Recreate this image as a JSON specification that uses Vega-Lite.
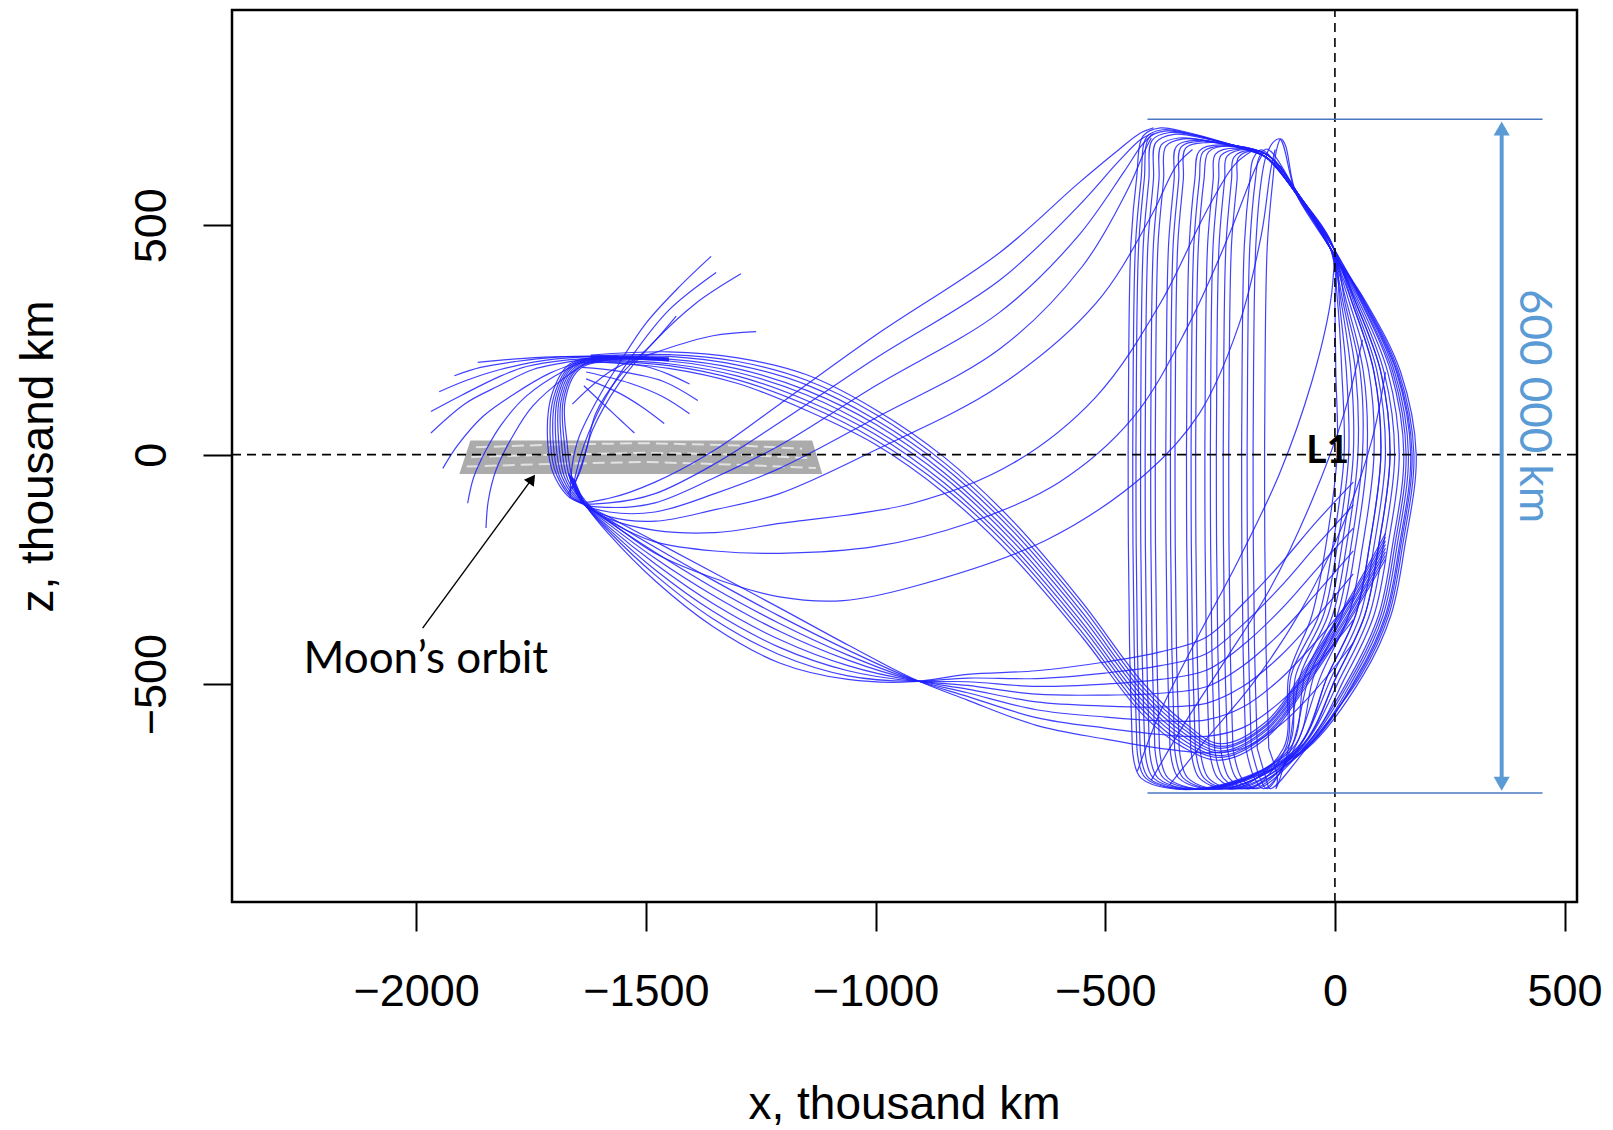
{
"$schema":"https://vega.github.io/schema/vega-lite/v6.json",
"width":1345,"height":892,"autosize":"none",
"padding":{"left":232,"top":10,"right":36,"bottom":228},
"background":"white",
"config":{"view":{"stroke":"black","strokeWidth":2.5}},
"datasets":{
"curves":[
{"c":"LF1","x":-1560,"z":212},{"c":"LF1","x":-1674,"z":206},{"c":"LF1","x":-1760,"z":192},{"c":"LF1","x":-1819,"z":170},{"c":"LF1","x":-1900,"z":130},{"c":"LF1","x":-1968,"z":94},
{"c":"LF2","x":-1560,"z":214},{"c":"LF2","x":-1700,"z":208},{"c":"LF2","x":-1819,"z":185},{"c":"LF2","x":-1890,"z":162},{"c":"LF2","x":-1950,"z":137},
{"c":"LF3","x":-1560,"z":215},{"c":"LF3","x":-1700,"z":212},{"c":"LF3","x":-1783,"z":203},{"c":"LF3","x":-1860,"z":190},{"c":"LF3","x":-1917,"z":172},
{"c":"LF4","x":-1580,"z":214},{"c":"LF4","x":-1700,"z":213},{"c":"LF4","x":-1790,"z":208},{"c":"LF4","x":-1866,"z":201},
{"c":"LF5","x":-1600,"z":212},{"c":"LF5","x":-1680,"z":200},{"c":"LF5","x":-1747,"z":185},{"c":"LF5","x":-1820,"z":150},{"c":"LF5","x":-1892,"z":112},{"c":"LF5","x":-1968,"z":47},
{"c":"LF6","x":-1620,"z":210},{"c":"LF6","x":-1710,"z":177},{"c":"LF6","x":-1790,"z":130},{"c":"LF6","x":-1855,"z":83},{"c":"LF6","x":-1910,"z":20},{"c":"LF6","x":-1942,"z":-30},
{"c":"LF7","x":-1620,"z":208},{"c":"LF7","x":-1674,"z":185},{"c":"LF7","x":-1761,"z":127},{"c":"LF7","x":-1815,"z":65},{"c":"LF7","x":-1848,"z":10},{"c":"LF7","x":-1875,"z":-50},{"c":"LF7","x":-1888,"z":-106},
{"c":"LF8","x":-1620,"z":205},{"c":"LF8","x":-1674,"z":170},{"c":"LF8","x":-1747,"z":105},{"c":"LF8","x":-1790,"z":40},{"c":"LF8","x":-1826,"z":-33},{"c":"LF8","x":-1843,"z":-100},{"c":"LF8","x":-1848,"z":-160},
{"c":"RF1","x":-1665,"z":-95},{"c":"RF1","x":-1660,"z":-20},{"c":"RF1","x":-1645,"z":40},{"c":"RF1","x":-1600,"z":130},{"c":"RF1","x":-1558,"z":199},{"c":"RF1","x":-1500,"z":286},{"c":"RF1","x":-1427,"z":366},{"c":"RF1","x":-1358,"z":432},
{"c":"RF2","x":-1670,"z":-85},{"c":"RF2","x":-1645,"z":-41},{"c":"RF2","x":-1616,"z":54},{"c":"RF2","x":-1558,"z":156},{"c":"RF2","x":-1485,"z":243},{"c":"RF2","x":-1391,"z":330},{"c":"RF2","x":-1293,"z":394},
{"c":"RF3","x":-1660,"z":-75},{"c":"RF3","x":-1635,"z":20},{"c":"RF3","x":-1590,"z":120},{"c":"RF3","x":-1530,"z":215},{"c":"RF3","x":-1450,"z":315},{"c":"RF3","x":-1347,"z":397},
{"c":"RF4","x":-1655,"z":-65},{"c":"RF4","x":-1630,"z":10},{"c":"RF4","x":-1609,"z":90},{"c":"RF4","x":-1558,"z":170},{"c":"RF4","x":-1485,"z":243},{"c":"RF4","x":-1434,"z":302},
{"c":"RF5","x":-1660,"z":110},{"c":"RF5","x":-1572,"z":185},{"c":"RF5","x":-1463,"z":228},{"c":"RF5","x":-1354,"z":259},{"c":"RF5","x":-1260,"z":268},
{"c":"SF1","x":-1640,"z":200},{"c":"SF1","x":-1560,"z":200},{"c":"SF1","x":-1500,"z":192},{"c":"SF1","x":-1450,"z":175},{"c":"SF1","x":-1405,"z":154},
{"c":"SF2","x":-1640,"z":190},{"c":"SF2","x":-1560,"z":182},{"c":"SF2","x":-1463,"z":160},{"c":"SF2","x":-1387,"z":118},
{"c":"SF3","x":-1630,"z":180},{"c":"SF3","x":-1536,"z":156},{"c":"SF3","x":-1463,"z":126},{"c":"SF3","x":-1405,"z":89},
{"c":"SF4","x":-1630,"z":165},{"c":"SF4","x":-1558,"z":134},{"c":"SF4","x":-1510,"z":105},{"c":"SF4","x":-1460,"z":68},
{"c":"SF5","x":-1635,"z":150},{"c":"SF5","x":-1587,"z":105},{"c":"SF5","x":-1555,"z":75},{"c":"SF5","x":-1525,"z":47},
{"c":"L0","x":-1450,"z":211},{"c":"L0","x":-1580,"z":213},{"c":"L0","x":-1665,"z":198},{"c":"L0","x":-1705,"z":130},{"c":"L0","x":-1714,"z":30},{"c":"L0","x":-1700,"z":-45},{"c":"L0","x":-1655,"z":-100},{"c":"L0","x":-1580,"z":-95},{"c":"L0","x":-1480,"z":-60},{"c":"L0","x":-1350,"z":10},{"c":"L0","x":-1209,"z":110},{"c":"L0","x":-1000,"z":260},{"c":"L0","x":-730,"z":440},{"c":"L0","x":-560,"z":590},{"c":"L0","x":-470,"z":665},{"c":"L0","x":-425,"z":700},{"c":"L0","x":-395,"z":712},
{"c":"L1","x":-1450,"z":210},{"c":"L1","x":-1580,"z":212},{"c":"L1","x":-1662,"z":196},{"c":"L1","x":-1700,"z":128},{"c":"L1","x":-1708,"z":30},{"c":"L1","x":-1694,"z":-45},{"c":"L1","x":-1650,"z":-102},{"c":"L1","x":-1580,"z":-105},{"c":"L1","x":-1480,"z":-85},{"c":"L1","x":-1350,"z":-20},{"c":"L1","x":-1209,"z":70},{"c":"L1","x":-1000,"z":210},{"c":"L1","x":-730,"z":380},{"c":"L1","x":-560,"z":540},{"c":"L1","x":-470,"z":640},{"c":"L1","x":-425,"z":685},{"c":"L1","x":-400,"z":700},
{"c":"L2","x":-1450,"z":209},{"c":"L2","x":-1580,"z":211},{"c":"L2","x":-1660,"z":194},{"c":"L2","x":-1696,"z":126},{"c":"L2","x":-1702,"z":30},{"c":"L2","x":-1688,"z":-48},{"c":"L2","x":-1645,"z":-104},{"c":"L2","x":-1580,"z":-115},{"c":"L2","x":-1480,"z":-105},{"c":"L2","x":-1350,"z":-50},{"c":"L2","x":-1209,"z":20},{"c":"L2","x":-1000,"z":150},{"c":"L2","x":-730,"z":310},{"c":"L2","x":-560,"z":475},{"c":"L2","x":-460,"z":615},{"c":"L2","x":-420,"z":675},{"c":"L2","x":-395,"z":700},
{"c":"L3","x":-1450,"z":208},{"c":"L3","x":-1580,"z":210},{"c":"L3","x":-1658,"z":192},{"c":"L3","x":-1692,"z":124},{"c":"L3","x":-1696,"z":30},{"c":"L3","x":-1682,"z":-50},{"c":"L3","x":-1640,"z":-106},{"c":"L3","x":-1580,"z":-125},{"c":"L3","x":-1480,"z":-125},{"c":"L3","x":-1350,"z":-85},{"c":"L3","x":-1209,"z":-30},{"c":"L3","x":-1000,"z":80},{"c":"L3","x":-730,"z":230},{"c":"L3","x":-550,"z":410},{"c":"L3","x":-450,"z":580},{"c":"L3","x":-415,"z":660},{"c":"L3","x":-400,"z":690},
{"c":"L4","x":-1450,"z":207},{"c":"L4","x":-1580,"z":209},{"c":"L4","x":-1655,"z":190},{"c":"L4","x":-1688,"z":122},{"c":"L4","x":-1690,"z":30},{"c":"L4","x":-1676,"z":-52},{"c":"L4","x":-1635,"z":-108},{"c":"L4","x":-1580,"z":-135},{"c":"L4","x":-1480,"z":-145},{"c":"L4","x":-1350,"z":-120},{"c":"L4","x":-1209,"z":-85},{"c":"L4","x":-1000,"z":10},{"c":"L4","x":-730,"z":150},{"c":"L4","x":-520,"z":330},{"c":"L4","x":-400,"z":520},{"c":"L4","x":-345,"z":630},{"c":"L4","x":-310,"z":665},
{"c":"L5","x":-1450,"z":206},{"c":"L5","x":-1580,"z":208},{"c":"L5","x":-1652,"z":188},{"c":"L5","x":-1684,"z":120},{"c":"L5","x":-1684,"z":30},{"c":"L5","x":-1670,"z":-54},{"c":"L5","x":-1630,"z":-110},{"c":"L5","x":-1580,"z":-140},{"c":"L5","x":-1480,"z":-165},{"c":"L5","x":-1350,"z":-170},{"c":"L5","x":-1209,"z":-150},{"c":"L5","x":-919,"z":-106},{"c":"L5","x":-701,"z":-19},{"c":"L5","x":-520,"z":126},{"c":"L5","x":-380,"z":330},{"c":"L5","x":-280,"z":530},{"c":"L5","x":-220,"z":630},{"c":"L5","x":-180,"z":662},
{"c":"L6","x":-1450,"z":205},{"c":"L6","x":-1580,"z":207},{"c":"L6","x":-1650,"z":186},{"c":"L6","x":-1680,"z":118},{"c":"L6","x":-1678,"z":30},{"c":"L6","x":-1664,"z":-56},{"c":"L6","x":-1625,"z":-112},{"c":"L6","x":-1570,"z":-150},{"c":"L6","x":-1480,"z":-190},{"c":"L6","x":-1350,"z":-210},{"c":"L6","x":-1209,"z":-215},{"c":"L6","x":-1000,"z":-200},{"c":"L6","x":-800,"z":-150},{"c":"L6","x":-600,"z":-60},{"c":"L6","x":-440,"z":80},{"c":"L6","x":-320,"z":280},{"c":"L6","x":-230,"z":480},{"c":"L6","x":-175,"z":620},{"c":"L6","x":-155,"z":660},
{"c":"L7","x":-1450,"z":204},{"c":"L7","x":-1580,"z":206},{"c":"L7","x":-1647,"z":184},{"c":"L7","x":-1676,"z":116},{"c":"L7","x":-1672,"z":30},{"c":"L7","x":-1658,"z":-58},{"c":"L7","x":-1620,"z":-114},{"c":"L7","x":-1560,"z":-160},{"c":"L7","x":-1480,"z":-215},{"c":"L7","x":-1350,"z":-270},{"c":"L7","x":-1209,"z":-310},{"c":"L7","x":-1070,"z":-318},{"c":"L7","x":-919,"z":-288},{"c":"L7","x":-628,"z":-186},{"c":"L7","x":-411,"z":-41},{"c":"L7","x":-295,"z":90},{"c":"L7","x":-210,"z":280},{"c":"L7","x":-160,"z":480},{"c":"L7","x":-140,"z":620},{"c":"L7","x":-130,"z":665},
{"c":"B0","x":-1620,"z":203},{"c":"B0","x":-1450,"z":188},{"c":"B0","x":-1300,"z":155},{"c":"B0","x":-1150,"z":96},{"c":"B0","x":-1000,"z":22},{"c":"B0","x":-850,"z":-84},{"c":"B0","x":-700,"z":-224},{"c":"B0","x":-550,"z":-398},{"c":"B0","x":-420,"z":-565},{"c":"B0","x":-330,"z":-638},{"c":"B0","x":-250,"z":-666},{"c":"B0","x":-150,"z":-618},{"c":"B0","x":-60,"z":-501},{"c":"B0","x":30,"z":-364},{"c":"B0","x":110,"z":-228},
{"c":"B1","x":-1620,"z":205},{"c":"B1","x":-1450,"z":194},{"c":"B1","x":-1300,"z":163},{"c":"B1","x":-1150,"z":108},{"c":"B1","x":-1000,"z":32},{"c":"B1","x":-850,"z":-72},{"c":"B1","x":-700,"z":-212},{"c":"B1","x":-550,"z":-388},{"c":"B1","x":-420,"z":-555},{"c":"B1","x":-330,"z":-630},{"c":"B1","x":-250,"z":-660},{"c":"B1","x":-150,"z":-612},{"c":"B1","x":-60,"z":-495},{"c":"B1","x":30,"z":-358},{"c":"B1","x":110,"z":-220},
{"c":"B2","x":-1620,"z":207},{"c":"B2","x":-1450,"z":198},{"c":"B2","x":-1300,"z":171},{"c":"B2","x":-1150,"z":118},{"c":"B2","x":-1000,"z":44},{"c":"B2","x":-850,"z":-62},{"c":"B2","x":-700,"z":-202},{"c":"B2","x":-550,"z":-376},{"c":"B2","x":-420,"z":-545},{"c":"B2","x":-330,"z":-622},{"c":"B2","x":-250,"z":-656},{"c":"B2","x":-150,"z":-608},{"c":"B2","x":-60,"z":-489},{"c":"B2","x":30,"z":-350},{"c":"B2","x":110,"z":-212},
{"c":"B3","x":-1620,"z":209},{"c":"B3","x":-1450,"z":204},{"c":"B3","x":-1300,"z":179},{"c":"B3","x":-1150,"z":130},{"c":"B3","x":-1000,"z":54},{"c":"B3","x":-850,"z":-50},{"c":"B3","x":-700,"z":-190},{"c":"B3","x":-550,"z":-366},{"c":"B3","x":-420,"z":-535},{"c":"B3","x":-330,"z":-614},{"c":"B3","x":-250,"z":-650},{"c":"B3","x":-150,"z":-602},{"c":"B3","x":-60,"z":-483},{"c":"B3","x":30,"z":-344},{"c":"B3","x":110,"z":-204},
{"c":"B4","x":-1620,"z":211},{"c":"B4","x":-1450,"z":208},{"c":"B4","x":-1300,"z":187},{"c":"B4","x":-1150,"z":140},{"c":"B4","x":-1000,"z":66},{"c":"B4","x":-850,"z":-40},{"c":"B4","x":-700,"z":-180},{"c":"B4","x":-550,"z":-354},{"c":"B4","x":-420,"z":-525},{"c":"B4","x":-330,"z":-606},{"c":"B4","x":-250,"z":-646},{"c":"B4","x":-150,"z":-598},{"c":"B4","x":-60,"z":-477},{"c":"B4","x":30,"z":-336},{"c":"B4","x":110,"z":-196},
{"c":"B5","x":-1620,"z":213},{"c":"B5","x":-1450,"z":214},{"c":"B5","x":-1300,"z":195},{"c":"B5","x":-1150,"z":152},{"c":"B5","x":-1000,"z":76},{"c":"B5","x":-850,"z":-28},{"c":"B5","x":-700,"z":-168},{"c":"B5","x":-550,"z":-344},{"c":"B5","x":-420,"z":-515},{"c":"B5","x":-330,"z":-598},{"c":"B5","x":-250,"z":-640},{"c":"B5","x":-150,"z":-592},{"c":"B5","x":-60,"z":-471},{"c":"B5","x":30,"z":-330},{"c":"B5","x":110,"z":-188},
{"c":"B6","x":-1620,"z":215},{"c":"B6","x":-1450,"z":218},{"c":"B6","x":-1300,"z":203},{"c":"B6","x":-1150,"z":162},{"c":"B6","x":-1000,"z":88},{"c":"B6","x":-850,"z":-18},{"c":"B6","x":-700,"z":-158},{"c":"B6","x":-550,"z":-332},{"c":"B6","x":-420,"z":-505},{"c":"B6","x":-330,"z":-590},{"c":"B6","x":-250,"z":-636},{"c":"B6","x":-150,"z":-588},{"c":"B6","x":-60,"z":-465},{"c":"B6","x":30,"z":-322},{"c":"B6","x":110,"z":-180},
{"c":"B7","x":-1620,"z":217},{"c":"B7","x":-1450,"z":224},{"c":"B7","x":-1300,"z":211},{"c":"B7","x":-1150,"z":174},{"c":"B7","x":-1000,"z":98},{"c":"B7","x":-850,"z":-6},{"c":"B7","x":-700,"z":-146},{"c":"B7","x":-550,"z":-322},{"c":"B7","x":-420,"z":-495},{"c":"B7","x":-330,"z":-582},{"c":"B7","x":-250,"z":-630},{"c":"B7","x":-150,"z":-582},{"c":"B7","x":-60,"z":-459},{"c":"B7","x":30,"z":-316},{"c":"B7","x":110,"z":-172},
{"c":"BB0","x":-1668,"z":-40},{"c":"BB0","x":-1640,"z":-100},{"c":"BB0","x":-1580,"z":-136},{"c":"BB0","x":-1480,"z":-189},{"c":"BB0","x":-1355,"z":-256},{"c":"BB0","x":-1209,"z":-334},{"c":"BB0","x":-1060,"z":-415},{"c":"BB0","x":-919,"z":-488},{"c":"BB0","x":-800,"z":-535},{"c":"BB0","x":-650,"z":-590},{"c":"BB0","x":-500,"z":-620},{"c":"BB0","x":-380,"z":-640},{"c":"BB0","x":-280,"z":-650},{"c":"BB0","x":-200,"z":-640},{"c":"BB0","x":-120,"z":-590},{"c":"BB0","x":-40,"z":-510},{"c":"BB0","x":40,"z":-410},
{"c":"BB1","x":-1668,"z":-42},{"c":"BB1","x":-1640,"z":-102},{"c":"BB1","x":-1580,"z":-142},{"c":"BB1","x":-1480,"z":-202},{"c":"BB1","x":-1355,"z":-273},{"c":"BB1","x":-1209,"z":-352},{"c":"BB1","x":-1060,"z":-426},{"c":"BB1","x":-919,"z":-489},{"c":"BB1","x":-800,"z":-527},{"c":"BB1","x":-650,"z":-573},{"c":"BB1","x":-500,"z":-596},{"c":"BB1","x":-380,"z":-610},{"c":"BB1","x":-280,"z":-614},{"c":"BB1","x":-200,"z":-595},{"c":"BB1","x":-120,"z":-540},{"c":"BB1","x":-40,"z":-458},{"c":"BB1","x":40,"z":-360},
{"c":"BB2","x":-1666,"z":-44},{"c":"BB2","x":-1638,"z":-104},{"c":"BB2","x":-1580,"z":-147},{"c":"BB2","x":-1480,"z":-213},{"c":"BB2","x":-1355,"z":-289},{"c":"BB2","x":-1209,"z":-368},{"c":"BB2","x":-1060,"z":-437},{"c":"BB2","x":-919,"z":-490},{"c":"BB2","x":-800,"z":-519},{"c":"BB2","x":-650,"z":-556},{"c":"BB2","x":-500,"z":-572},{"c":"BB2","x":-380,"z":-580},{"c":"BB2","x":-280,"z":-578},{"c":"BB2","x":-200,"z":-550},{"c":"BB2","x":-120,"z":-490},{"c":"BB2","x":-40,"z":-406},{"c":"BB2","x":40,"z":-310},
{"c":"BB3","x":-1664,"z":-46},{"c":"BB3","x":-1636,"z":-106},{"c":"BB3","x":-1580,"z":-152},{"c":"BB3","x":-1480,"z":-226},{"c":"BB3","x":-1355,"z":-306},{"c":"BB3","x":-1209,"z":-385},{"c":"BB3","x":-1060,"z":-448},{"c":"BB3","x":-919,"z":-491},{"c":"BB3","x":-800,"z":-511},{"c":"BB3","x":-650,"z":-539},{"c":"BB3","x":-500,"z":-548},{"c":"BB3","x":-380,"z":-550},{"c":"BB3","x":-280,"z":-542},{"c":"BB3","x":-200,"z":-505},{"c":"BB3","x":-120,"z":-440},{"c":"BB3","x":-40,"z":-354},{"c":"BB3","x":40,"z":-260},
{"c":"BB4","x":-1662,"z":-48},{"c":"BB4","x":-1634,"z":-108},{"c":"BB4","x":-1580,"z":-158},{"c":"BB4","x":-1480,"z":-238},{"c":"BB4","x":-1355,"z":-324},{"c":"BB4","x":-1209,"z":-403},{"c":"BB4","x":-1060,"z":-460},{"c":"BB4","x":-919,"z":-492},{"c":"BB4","x":-800,"z":-503},{"c":"BB4","x":-650,"z":-522},{"c":"BB4","x":-500,"z":-524},{"c":"BB4","x":-380,"z":-520},{"c":"BB4","x":-280,"z":-506},{"c":"BB4","x":-200,"z":-460},{"c":"BB4","x":-120,"z":-390},{"c":"BB4","x":-40,"z":-302},{"c":"BB4","x":40,"z":-210},
{"c":"BB5","x":-1660,"z":-50},{"c":"BB5","x":-1632,"z":-110},{"c":"BB5","x":-1580,"z":-163},{"c":"BB5","x":-1480,"z":-251},{"c":"BB5","x":-1355,"z":-341},{"c":"BB5","x":-1209,"z":-420},{"c":"BB5","x":-1060,"z":-471},{"c":"BB5","x":-919,"z":-493},{"c":"BB5","x":-800,"z":-495},{"c":"BB5","x":-650,"z":-505},{"c":"BB5","x":-500,"z":-500},{"c":"BB5","x":-380,"z":-490},{"c":"BB5","x":-280,"z":-470},{"c":"BB5","x":-200,"z":-415},{"c":"BB5","x":-120,"z":-340},{"c":"BB5","x":-40,"z":-250},{"c":"BB5","x":40,"z":-160},
{"c":"BB6","x":-1658,"z":-52},{"c":"BB6","x":-1630,"z":-112},{"c":"BB6","x":-1580,"z":-168},{"c":"BB6","x":-1480,"z":-262},{"c":"BB6","x":-1355,"z":-357},{"c":"BB6","x":-1209,"z":-436},{"c":"BB6","x":-1060,"z":-482},{"c":"BB6","x":-919,"z":-494},{"c":"BB6","x":-800,"z":-487},{"c":"BB6","x":-650,"z":-488},{"c":"BB6","x":-500,"z":-476},{"c":"BB6","x":-380,"z":-460},{"c":"BB6","x":-280,"z":-434},{"c":"BB6","x":-200,"z":-370},{"c":"BB6","x":-120,"z":-290},{"c":"BB6","x":-40,"z":-198},{"c":"BB6","x":40,"z":-110},
{"c":"BB7","x":-1656,"z":-54},{"c":"BB7","x":-1628,"z":-114},{"c":"BB7","x":-1580,"z":-174},{"c":"BB7","x":-1480,"z":-275},{"c":"BB7","x":-1355,"z":-374},{"c":"BB7","x":-1209,"z":-454},{"c":"BB7","x":-1060,"z":-490},{"c":"BB7","x":-919,"z":-495},{"c":"BB7","x":-800,"z":-479},{"c":"BB7","x":-650,"z":-471},{"c":"BB7","x":-500,"z":-452},{"c":"BB7","x":-380,"z":-430},{"c":"BB7","x":-280,"z":-398},{"c":"BB7","x":-200,"z":-325},{"c":"BB7","x":-120,"z":-240},{"c":"BB7","x":-40,"z":-146},{"c":"BB7","x":40,"z":-60},
{"c":"D1","x":-430,"z":-690},{"c":"D1","x":-380,"z":-560},{"c":"D1","x":-300,"z":-400},{"c":"D1","x":-210,"z":-230},{"c":"D1","x":-120,"z":-40},{"c":"D1","x":-50,"z":160},{"c":"D1","x":-10,"z":330},{"c":"D1","x":0,"z":450},
{"c":"D2","x":-400,"z":-710},{"c":"D2","x":-330,"z":-590},{"c":"D2","x":-240,"z":-450},{"c":"D2","x":-140,"z":-290},{"c":"D2","x":-50,"z":-100},{"c":"D2","x":20,"z":90},{"c":"D2","x":60,"z":250},
{"c":"D3","x":-360,"z":-720},{"c":"D3","x":-280,"z":-620},{"c":"D3","x":-180,"z":-500},{"c":"D3","x":-80,"z":-350},{"c":"D3","x":10,"z":-170},{"c":"D3","x":80,"z":30},{"c":"D3","x":110,"z":180},
{"c":"H0","x":-441,"z":-640},{"c":"H0","x":-447,"z":-420},{"c":"H0","x":-450,"z":-120},{"c":"H0","x":-449,"z":200},{"c":"H0","x":-444,"z":460},{"c":"H0","x":-432,"z":600},{"c":"H0","x":-417,"z":695},{"c":"H0","x":-380,"z":712},{"c":"H0","x":-320,"z":702},{"c":"H0","x":-240,"z":680},{"c":"H0","x":-180,"z":660},{"c":"H0","x":-150,"z":648},{"c":"H0","x":-85,"z":570},{"c":"H0","x":-10,"z":450},{"c":"H0","x":26,"z":330},{"c":"H0","x":62,"z":180},{"c":"H0","x":70,"z":0},{"c":"H0","x":45,"z":-200},{"c":"H0","x":15,"z":-350},{"c":"H0","x":-45,"z":-480},{"c":"H0","x":-92,"z":-640},{"c":"H0","x":-291,"z":-728},{"c":"H0","x":-422,"z":-705},{"c":"H0","x":-441,"z":-640},
{"c":"H1","x":-424,"z":-640},{"c":"H1","x":-430,"z":-420},{"c":"H1","x":-433,"z":-120},{"c":"H1","x":-432,"z":200},{"c":"H1","x":-427,"z":460},{"c":"H1","x":-415,"z":600},{"c":"H1","x":-405,"z":690},{"c":"H1","x":-370,"z":705},{"c":"H1","x":-300,"z":695},{"c":"H1","x":-220,"z":672},{"c":"H1","x":-150,"z":648},{"c":"H1","x":-85,"z":570},{"c":"H1","x":-10,"z":450},{"c":"H1","x":46,"z":330},{"c":"H1","x":100,"z":180},{"c":"H1","x":120,"z":0},{"c":"H1","x":95,"z":-200},{"c":"H1","x":65,"z":-350},{"c":"H1","x":5,"z":-480},{"c":"H1","x":-77,"z":-640},{"c":"H1","x":-282,"z":-728},{"c":"H1","x":-405,"z":-705},{"c":"H1","x":-424,"z":-640},
{"c":"H2","x":-404,"z":-640},{"c":"H2","x":-410,"z":-420},{"c":"H2","x":-413,"z":-120},{"c":"H2","x":-412,"z":200},{"c":"H2","x":-407,"z":460},{"c":"H2","x":-395,"z":600},{"c":"H2","x":-390,"z":680},{"c":"H2","x":-350,"z":698},{"c":"H2","x":-280,"z":688},{"c":"H2","x":-200,"z":668},{"c":"H2","x":-150,"z":648},{"c":"H2","x":-85,"z":570},{"c":"H2","x":-10,"z":450},{"c":"H2","x":18,"z":330},{"c":"H2","x":45,"z":180},{"c":"H2","x":50,"z":0},{"c":"H2","x":25,"z":-200},{"c":"H2","x":-5,"z":-350},{"c":"H2","x":-65,"z":-480},{"c":"H2","x":-98,"z":-640},{"c":"H2","x":-270,"z":-728},{"c":"H2","x":-385,"z":-705},{"c":"H2","x":-404,"z":-640},
{"c":"H3","x":-392,"z":-640},{"c":"H3","x":-398,"z":-420},{"c":"H3","x":-401,"z":-120},{"c":"H3","x":-400,"z":200},{"c":"H3","x":-395,"z":460},{"c":"H3","x":-383,"z":600},{"c":"H3","x":-378,"z":675},{"c":"H3","x":-340,"z":690},{"c":"H3","x":-270,"z":682},{"c":"H3","x":-150,"z":648},{"c":"H3","x":-85,"z":570},{"c":"H3","x":-10,"z":450},{"c":"H3","x":54,"z":330},{"c":"H3","x":115,"z":180},{"c":"H3","x":140,"z":0},{"c":"H3","x":115,"z":-200},{"c":"H3","x":85,"z":-350},{"c":"H3","x":25,"z":-480},{"c":"H3","x":-71,"z":-640},{"c":"H3","x":-264,"z":-728},{"c":"H3","x":-373,"z":-705},{"c":"H3","x":-392,"z":-640},
{"c":"H4","x":-359,"z":-640},{"c":"H4","x":-365,"z":-420},{"c":"H4","x":-368,"z":-120},{"c":"H4","x":-367,"z":200},{"c":"H4","x":-362,"z":460},{"c":"H4","x":-350,"z":600},{"c":"H4","x":-345,"z":672},{"c":"H4","x":-300,"z":685},{"c":"H4","x":-230,"z":675},{"c":"H4","x":-150,"z":648},{"c":"H4","x":-85,"z":570},{"c":"H4","x":-10,"z":450},{"c":"H4","x":62,"z":330},{"c":"H4","x":130,"z":180},{"c":"H4","x":160,"z":0},{"c":"H4","x":135,"z":-200},{"c":"H4","x":105,"z":-350},{"c":"H4","x":45,"z":-480},{"c":"H4","x":-65,"z":-640},{"c":"H4","x":-246,"z":-728},{"c":"H4","x":-340,"z":-705},{"c":"H4","x":-359,"z":-640},
{"c":"H5","x":-339,"z":-640},{"c":"H5","x":-345,"z":-420},{"c":"H5","x":-348,"z":-120},{"c":"H5","x":-347,"z":200},{"c":"H5","x":-342,"z":460},{"c":"H5","x":-330,"z":600},{"c":"H5","x":-325,"z":668},{"c":"H5","x":-280,"z":680},{"c":"H5","x":-210,"z":672},{"c":"H5","x":-150,"z":648},{"c":"H5","x":-85,"z":570},{"c":"H5","x":-10,"z":450},{"c":"H5","x":38,"z":330},{"c":"H5","x":85,"z":180},{"c":"H5","x":100,"z":0},{"c":"H5","x":75,"z":-200},{"c":"H5","x":45,"z":-350},{"c":"H5","x":-15,"z":-480},{"c":"H5","x":-83,"z":-640},{"c":"H5","x":-235,"z":-728},{"c":"H5","x":-320,"z":-705},{"c":"H5","x":-339,"z":-640},
{"c":"H6","x":-314,"z":-640},{"c":"H6","x":-320,"z":-420},{"c":"H6","x":-323,"z":-120},{"c":"H6","x":-322,"z":200},{"c":"H6","x":-317,"z":460},{"c":"H6","x":-305,"z":600},{"c":"H6","x":-295,"z":662},{"c":"H6","x":-250,"z":675},{"c":"H6","x":-150,"z":648},{"c":"H6","x":-85,"z":570},{"c":"H6","x":-10,"z":450},{"c":"H6","x":69,"z":330},{"c":"H6","x":143,"z":180},{"c":"H6","x":177,"z":0},{"c":"H6","x":152,"z":-200},{"c":"H6","x":122,"z":-350},{"c":"H6","x":62,"z":-480},{"c":"H6","x":-60,"z":-640},{"c":"H6","x":-221,"z":-728},{"c":"H6","x":-295,"z":-705},{"c":"H6","x":-314,"z":-640},
{"c":"H7","x":-294,"z":-640},{"c":"H7","x":-300,"z":-420},{"c":"H7","x":-303,"z":-120},{"c":"H7","x":-302,"z":200},{"c":"H7","x":-297,"z":460},{"c":"H7","x":-285,"z":600},{"c":"H7","x":-275,"z":660},{"c":"H7","x":-230,"z":672},{"c":"H7","x":-150,"z":648},{"c":"H7","x":-85,"z":570},{"c":"H7","x":-10,"z":450},{"c":"H7","x":50,"z":330},{"c":"H7","x":107,"z":180},{"c":"H7","x":130,"z":0},{"c":"H7","x":105,"z":-200},{"c":"H7","x":75,"z":-350},{"c":"H7","x":15,"z":-480},{"c":"H7","x":-74,"z":-640},{"c":"H7","x":-210,"z":-728},{"c":"H7","x":-275,"z":-705},{"c":"H7","x":-294,"z":-640},
{"c":"H8","x":-274,"z":-640},{"c":"H8","x":-280,"z":-420},{"c":"H8","x":-283,"z":-120},{"c":"H8","x":-282,"z":200},{"c":"H8","x":-277,"z":460},{"c":"H8","x":-265,"z":600},{"c":"H8","x":-260,"z":655},{"c":"H8","x":-215,"z":668},{"c":"H8","x":-150,"z":648},{"c":"H8","x":-85,"z":570},{"c":"H8","x":-10,"z":450},{"c":"H8","x":65,"z":330},{"c":"H8","x":136,"z":180},{"c":"H8","x":168,"z":0},{"c":"H8","x":143,"z":-200},{"c":"H8","x":113,"z":-350},{"c":"H8","x":53,"z":-480},{"c":"H8","x":-63,"z":-640},{"c":"H8","x":-199,"z":-728},{"c":"H8","x":-255,"z":-705},{"c":"H8","x":-274,"z":-640},
{"c":"H9","x":-249,"z":-640},{"c":"H9","x":-255,"z":-420},{"c":"H9","x":-258,"z":-120},{"c":"H9","x":-257,"z":200},{"c":"H9","x":-252,"z":460},{"c":"H9","x":-240,"z":600},{"c":"H9","x":-235,"z":650},{"c":"H9","x":-195,"z":665},{"c":"H9","x":-150,"z":648},{"c":"H9","x":-85,"z":570},{"c":"H9","x":-10,"z":450},{"c":"H9","x":6,"z":330},{"c":"H9","x":15,"z":180},{"c":"H9","x":20,"z":0},{"c":"H9","x":-5,"z":-200},{"c":"H9","x":-35,"z":-350},{"c":"H9","x":-95,"z":-480},{"c":"H9","x":-107,"z":-640},{"c":"H9","x":-185,"z":-728},{"c":"H9","x":-230,"z":-705},{"c":"H9","x":-249,"z":-640},
{"c":"H10","x":-222,"z":-640},{"c":"H10","x":-228,"z":-420},{"c":"H10","x":-231,"z":-120},{"c":"H10","x":-230,"z":200},{"c":"H10","x":-225,"z":460},{"c":"H10","x":-213,"z":600},{"c":"H10","x":-210,"z":648},{"c":"H10","x":-180,"z":662},{"c":"H10","x":-150,"z":648},{"c":"H10","x":-85,"z":570},{"c":"H10","x":-10,"z":450},{"c":"H10","x":58,"z":330},{"c":"H10","x":122,"z":180},{"c":"H10","x":150,"z":0},{"c":"H10","x":125,"z":-200},{"c":"H10","x":95,"z":-350},{"c":"H10","x":35,"z":-480},{"c":"H10","x":-68,"z":-640},{"c":"H10","x":-170,"z":-728},{"c":"H10","x":-203,"z":-705},{"c":"H10","x":-222,"z":-640},
{"c":"H11","x":-194,"z":-640},{"c":"H11","x":-200,"z":-420},{"c":"H11","x":-203,"z":-120},{"c":"H11","x":-202,"z":200},{"c":"H11","x":-197,"z":460},{"c":"H11","x":-185,"z":600},{"c":"H11","x":-178,"z":645},{"c":"H11","x":-160,"z":664},{"c":"H11","x":-85,"z":570},{"c":"H11","x":-10,"z":450},{"c":"H11","x":32,"z":330},{"c":"H11","x":74,"z":180},{"c":"H11","x":85,"z":0},{"c":"H11","x":60,"z":-200},{"c":"H11","x":30,"z":-350},{"c":"H11","x":-30,"z":-480},{"c":"H11","x":-88,"z":-640},{"c":"H11","x":-155,"z":-728},{"c":"H11","x":-175,"z":-705},{"c":"H11","x":-194,"z":-640},
{"c":"H12","x":-169,"z":-640},{"c":"H12","x":-175,"z":-420},{"c":"H12","x":-178,"z":-120},{"c":"H12","x":-177,"z":200},{"c":"H12","x":-172,"z":460},{"c":"H12","x":-160,"z":600},{"c":"H12","x":-150,"z":650},{"c":"H12","x":-135,"z":680},{"c":"H12","x":-120,"z":688},{"c":"H12","x":-85,"z":570},{"c":"H12","x":-10,"z":450},{"c":"H12","x":67,"z":330},{"c":"H12","x":139,"z":180},{"c":"H12","x":172,"z":0},{"c":"H12","x":147,"z":-200},{"c":"H12","x":117,"z":-350},{"c":"H12","x":57,"z":-480},{"c":"H12","x":-62,"z":-640},{"c":"H12","x":-141,"z":-728},{"c":"H12","x":-150,"z":-705},{"c":"H12","x":-169,"z":-640},
{"c":"H13","x":-144,"z":-640},{"c":"H13","x":-150,"z":-420},{"c":"H13","x":-153,"z":-120},{"c":"H13","x":-152,"z":200},{"c":"H13","x":-147,"z":460},{"c":"H13","x":-135,"z":600},{"c":"H13","x":-128,"z":660},{"c":"H13","x":-118,"z":688},{"c":"H13","x":-108,"z":675},{"c":"H13","x":-85,"z":570},{"c":"H13","x":-10,"z":450},{"c":"H13","x":14,"z":330},{"c":"H13","x":35,"z":180},{"c":"H13","x":40,"z":0},{"c":"H13","x":15,"z":-200},{"c":"H13","x":-15,"z":-350},{"c":"H13","x":-75,"z":-480},{"c":"H13","x":-101,"z":-640},{"c":"H13","x":-128,"z":-728},{"c":"H13","x":-125,"z":-705},{"c":"H13","x":-144,"z":-640},
{"c":"H14","x":-431,"z":-640},{"c":"H14","x":-437,"z":-420},{"c":"H14","x":-440,"z":-120},{"c":"H14","x":-439,"z":200},{"c":"H14","x":-434,"z":460},{"c":"H14","x":-422,"z":600},{"c":"H14","x":-410,"z":692},{"c":"H14","x":-375,"z":708},{"c":"H14","x":-310,"z":698},{"c":"H14","x":-230,"z":676},{"c":"H14","x":-145,"z":652},{"c":"H14","x":-78,"z":565},{"c":"H14","x":-2,"z":448},{"c":"H14","x":38,"z":330},{"c":"H14","x":85,"z":180},{"c":"H14","x":100,"z":0},{"c":"H14","x":75,"z":-200},{"c":"H14","x":45,"z":-350},{"c":"H14","x":-15,"z":-480},{"c":"H14","x":-83,"z":-640},{"c":"H14","x":-285,"z":-728},{"c":"H14","x":-412,"z":-705},{"c":"H14","x":-431,"z":-640},
{"c":"H15","x":-414,"z":-640},{"c":"H15","x":-420,"z":-420},{"c":"H15","x":-423,"z":-120},{"c":"H15","x":-422,"z":200},{"c":"H15","x":-417,"z":460},{"c":"H15","x":-405,"z":600},{"c":"H15","x":-398,"z":685},{"c":"H15","x":-360,"z":702},{"c":"H15","x":-290,"z":692},{"c":"H15","x":-210,"z":670},{"c":"H15","x":-145,"z":652},{"c":"H15","x":-78,"z":565},{"c":"H15","x":-2,"z":448},{"c":"H15","x":64,"z":330},{"c":"H15","x":134,"z":180},{"c":"H15","x":165,"z":0},{"c":"H15","x":140,"z":-200},{"c":"H15","x":110,"z":-350},{"c":"H15","x":50,"z":-480},{"c":"H15","x":-64,"z":-640},{"c":"H15","x":-276,"z":-728},{"c":"H15","x":-395,"z":-705},{"c":"H15","x":-414,"z":-640},
{"c":"H16","x":-382,"z":-640},{"c":"H16","x":-388,"z":-420},{"c":"H16","x":-391,"z":-120},{"c":"H16","x":-390,"z":200},{"c":"H16","x":-385,"z":460},{"c":"H16","x":-373,"z":600},{"c":"H16","x":-368,"z":672},{"c":"H16","x":-330,"z":688},{"c":"H16","x":-260,"z":680},{"c":"H16","x":-145,"z":652},{"c":"H16","x":-78,"z":565},{"c":"H16","x":-2,"z":448},{"c":"H16","x":10,"z":330},{"c":"H16","x":25,"z":180},{"c":"H16","x":30,"z":0},{"c":"H16","x":5,"z":-200},{"c":"H16","x":-25,"z":-350},{"c":"H16","x":-85,"z":-480},{"c":"H16","x":-104,"z":-640},{"c":"H16","x":-258,"z":-728},{"c":"H16","x":-363,"z":-705},{"c":"H16","x":-382,"z":-640},
{"c":"H17","x":-349,"z":-640},{"c":"H17","x":-355,"z":-420},{"c":"H17","x":-358,"z":-120},{"c":"H17","x":-357,"z":200},{"c":"H17","x":-352,"z":460},{"c":"H17","x":-340,"z":600},{"c":"H17","x":-335,"z":670},{"c":"H17","x":-290,"z":683},{"c":"H17","x":-220,"z":674},{"c":"H17","x":-145,"z":652},{"c":"H17","x":-78,"z":565},{"c":"H17","x":-2,"z":448},{"c":"H17","x":46,"z":330},{"c":"H17","x":100,"z":180},{"c":"H17","x":120,"z":0},{"c":"H17","x":95,"z":-200},{"c":"H17","x":65,"z":-350},{"c":"H17","x":5,"z":-480},{"c":"H17","x":-77,"z":-640},{"c":"H17","x":-240,"z":-728},{"c":"H17","x":-330,"z":-705},{"c":"H17","x":-349,"z":-640},
{"c":"H18","x":-304,"z":-640},{"c":"H18","x":-310,"z":-420},{"c":"H18","x":-313,"z":-120},{"c":"H18","x":-312,"z":200},{"c":"H18","x":-307,"z":460},{"c":"H18","x":-295,"z":600},{"c":"H18","x":-287,"z":660},{"c":"H18","x":-240,"z":673},{"c":"H18","x":-145,"z":652},{"c":"H18","x":-78,"z":565},{"c":"H18","x":-2,"z":448},{"c":"H18","x":0,"z":330},{"c":"H18","x":2,"z":180},{"c":"H18","x":5,"z":0},{"c":"H18","x":-20,"z":-200},{"c":"H18","x":-50,"z":-350},{"c":"H18","x":-100,"z":-480},{"c":"H18","x":-112,"z":-640},{"c":"H18","x":-216,"z":-728},{"c":"H18","x":-285,"z":-705},{"c":"H18","x":-304,"z":-640},
{"c":"H19","x":-262,"z":-640},{"c":"H19","x":-268,"z":-420},{"c":"H19","x":-271,"z":-120},{"c":"H19","x":-270,"z":200},{"c":"H19","x":-265,"z":460},{"c":"H19","x":-253,"z":600},{"c":"H19","x":-248,"z":652},{"c":"H19","x":-205,"z":666},{"c":"H19","x":-145,"z":652},{"c":"H19","x":-78,"z":565},{"c":"H19","x":-2,"z":448},{"c":"H19","x":60,"z":330},{"c":"H19","x":126,"z":180},{"c":"H19","x":155,"z":0},{"c":"H19","x":130,"z":-200},{"c":"H19","x":100,"z":-350},{"c":"H19","x":40,"z":-480},{"c":"H19","x":-67,"z":-640},{"c":"H19","x":-192,"z":-728},{"c":"H19","x":-243,"z":-705},{"c":"H19","x":-262,"z":-640},
{"c":"H20","x":-234,"z":-640},{"c":"H20","x":-240,"z":-420},{"c":"H20","x":-243,"z":-120},{"c":"H20","x":-242,"z":200},{"c":"H20","x":-237,"z":460},{"c":"H20","x":-225,"z":600},{"c":"H20","x":-220,"z":648},{"c":"H20","x":-188,"z":663},{"c":"H20","x":-145,"z":652},{"c":"H20","x":-78,"z":565},{"c":"H20","x":-2,"z":448},{"c":"H20","x":42,"z":330},{"c":"H20","x":92,"z":180},{"c":"H20","x":110,"z":0},{"c":"H20","x":85,"z":-200},{"c":"H20","x":55,"z":-350},{"c":"H20","x":-5,"z":-480},{"c":"H20","x":-80,"z":-640},{"c":"H20","x":-177,"z":-728},{"c":"H20","x":-215,"z":-705},{"c":"H20","x":-234,"z":-640},
{"c":"H21","x":-182,"z":-640},{"c":"H21","x":-188,"z":-420},{"c":"H21","x":-191,"z":-120},{"c":"H21","x":-190,"z":200},{"c":"H21","x":-185,"z":460},{"c":"H21","x":-173,"z":600},{"c":"H21","x":-165,"z":648},{"c":"H21","x":-148,"z":666},{"c":"H21","x":-78,"z":565},{"c":"H21","x":-2,"z":448},{"c":"H21","x":22,"z":330},{"c":"H21","x":55,"z":180},{"c":"H21","x":60,"z":0},{"c":"H21","x":35,"z":-200},{"c":"H21","x":5,"z":-350},{"c":"H21","x":-55,"z":-480},{"c":"H21","x":-95,"z":-640},{"c":"H21","x":-148,"z":-728},{"c":"H21","x":-163,"z":-705},{"c":"H21","x":-182,"z":-640}
],
"moon":[{"x":-1906,"z":-42,"z2":-42},{"x":-1882,"z":-42,"z2":31},{"x":-1138,"z":-42,"z2":31},{"x":-1116,"z":-42,"z2":-42}],
"streaks":[
{"c":"s1","x":-1870,"z":16},{"c":"s1","x":-1700,"z":22},{"c":"s1","x":-1500,"z":25},{"c":"s1","x":-1300,"z":20},{"c":"s1","x":-1160,"z":13},
{"c":"s2","x":-1880,"z":-5},{"c":"s2","x":-1700,"z":0},{"c":"s2","x":-1500,"z":4},{"c":"s2","x":-1300,"z":0},{"c":"s2","x":-1140,"z":-8},
{"c":"s3","x":-1890,"z":-26},{"c":"s3","x":-1700,"z":-20},{"c":"s3","x":-1500,"z":-16},{"c":"s3","x":-1300,"z":-22},{"c":"s3","x":-1130,"z":-29}
],
"dashes":[{"x":-2401,"z":0,"x2":527,"z2":0},{"x":0,"z":-975,"x2":0,"z2":969}],
"dimlines":[{"x":-408,"z":731,"x2":452,"z2":731},{"x":-408,"z":-737.6,"x2":452,"z2":-737.6}],
"shaft":[{"x":363,"z":712,"x2":363,"z2":-718}],
"heads":[{"x":363,"z":710.7,"s":"triangle-up"},{"x":363,"z":-717.3,"s":"triangle-down"}],
"moonarrow":[{"x":-1986,"z":-378,"x2":-1748,"z2":-53}],
"moonhead":[{"x":-1748,"z":-53}],
"moonlabel":[{"x":-1979,"z":-476,"t":"Moon’s orbit"}],
"l1":[{"x":-16,"z":-18,"t":"L1"}],
"dimlabel":[{"x":403,"z":106,"t":"600 000 km"}]
},
"encoding":{
"x":{"field":"x","type":"quantitative","scale":{"domain":[-2401,527],"nice":false,"zero":false},
"axis":{"title":"x, thousand km","values":[-2000,-1500,-1000,-500,0,500],"format":"d","domain":false,"grid":false,"tickSize":29,"tickWidth":2,"tickColor":"black","labelFont":"Liberation Sans","labelFontSize":45,"labelColor":"black","labelPadding":38,"labelBaseline":"top","labelFlush":false,"labelOverlap":false,"titleFont":"Liberation Sans","titleFontSize":46,"titleFontWeight":"normal","titleColor":"black","titleX":672,"titleY":216,"titleBaseline":"alphabetic","titleAlign":"center"}},
"y":{"field":"z","type":"quantitative","scale":{"domain":[-975,969],"nice":false,"zero":false},
"axis":{"title":"z, thousand km","values":[-500,0,500],"format":"d","domain":false,"grid":false,"tickSize":29,"tickWidth":2,"tickColor":"black","labelFont":"Liberation Sans","labelFontSize":45,"labelColor":"black","labelPadding":38,"labelAngle":270,"labelAlign":"center","labelBaseline":"alphabetic","labelFlush":false,"labelOverlap":false,"titleFont":"Liberation Sans","titleFontSize":46,"titleFontWeight":"normal","titleColor":"black","titleAngle":270,"titleX":-180,"titleY":446,"titleBaseline":"alphabetic","titleAlign":"center"}}
},
"layer":[
{"data":{"name":"moon"},"mark":{"type":"area","color":"#ababab"},"encoding":{"y2":{"field":"z2"}}},
{"data":{"name":"streaks"},"mark":{"type":"line","color":"#e2e2e2","strokeWidth":2,"strokeDash":[12,6]},"encoding":{"detail":{"field":"c"},"order":{"value":null}}},
{"data":{"name":"curves"},"mark":{"type":"line","color":"#1f1fff","strokeWidth":1.2,"opacity":0.85,"interpolate":"catmull-rom"},"encoding":{"detail":{"field":"c"},"order":{"value":null}}},
{"data":{"name":"dashes"},"mark":{"type":"rule","color":"black","strokeWidth":1.6,"strokeDash":[9,6]},"encoding":{"x2":{"field":"x2"},"y2":{"field":"z2"}}},
{"data":{"name":"dimlines"},"mark":{"type":"rule","color":"#4a78c0","strokeWidth":1.5},"encoding":{"x2":{"field":"x2"},"y2":{"field":"z2"}}},
{"data":{"name":"shaft"},"mark":{"type":"rule","color":"#5b9bd5","strokeWidth":4},"encoding":{"x2":{"field":"x2"},"y2":{"field":"z2"}}},
{"data":{"name":"heads"},"mark":{"type":"point","filled":true,"color":"#5b9bd5","size":260,"opacity":1},"encoding":{"shape":{"field":"s","type":"nominal","scale":null}}},
{"data":{"name":"moonarrow"},"mark":{"type":"rule","color":"black","strokeWidth":1.4},"encoding":{"x2":{"field":"x2"},"y2":{"field":"z2"}}},
{"data":{"name":"moonhead"},"mark":{"type":"point","shape":"triangle-up","angle":36,"filled":true,"color":"black","size":150,"opacity":1}},
{"data":{"name":"moonlabel"},"mark":{"type":"text","font":"Lato","fontSize":44,"color":"black","align":"center","baseline":"alphabetic"},"encoding":{"text":{"field":"t"}}},
{"data":{"name":"l1"},"mark":{"type":"text","font":"Lato","fontSize":39,"fontWeight":"bold","color":"black","align":"center","baseline":"alphabetic"},"encoding":{"text":{"field":"t"}}},
{"data":{"name":"dimlabel"},"mark":{"type":"text","font":"Lato","fontSize":44,"color":"#5b9bd5","align":"center","baseline":"alphabetic","angle":90},"encoding":{"text":{"field":"t"}}}
]
}
